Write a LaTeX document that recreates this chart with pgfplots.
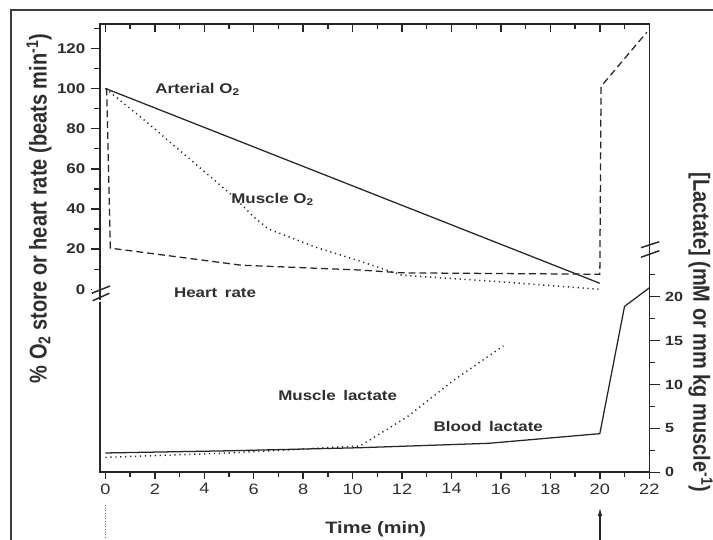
\documentclass[border=0pt]{standalone}
\usepackage{fontspec}
\setmainfont{Liberation Sans}
\usepackage{graphicx}
\usepackage{pgfplots}
\pgfplotsset{compat=1.18}
\usetikzlibrary{arrows.meta}
\definecolor{ink}{HTML}{262626}
\definecolor{txt}{HTML}{2E2E2E}

\begin{document}
\begin{tikzpicture}
\useasboundingbox (0,0) rectangle (534.75pt,404.25pt);
\pgfplotsset{
  common/.style={
    at={(75pt,50.03pt)}, anchor=south west, scale only axis,
    width=412.13pt, height=336.23pt,
    xmin=-0.22, xmax=22.01,
    clip=false,
    /pgf/number format/assume math mode=true,
    tick style={ink, line width=1.1pt},
    minor tick style={ink, line width=1.0pt},
  },
  hide lines/.style={axis line style={draw=none}},
}
% ---------- left axis: O2 and heart rate ----------
\begin{axis}[common,
  ymin=-91.1, ymax=132.1,
  axis line style={ink, line width=1.4pt},
  xtick=\empty,
  ytick={0,20,...,120}, minor ytick={10,30,...,130},
  ytick pos=left, tick align=outside,
  major tick length=6.75pt, minor tick length=4.5pt,
  yticklabel style={font=\fontsize{10.5}{12}\selectfont\bfseries, text=txt, xscale=1.21},
]
% Arterial O2
\addplot[ink, line width=0.95pt] coordinates {(0,100) (20,3)};
% Muscle O2
\addplot[ink, line width=1.1pt, dash pattern=on 0.9pt off 2.8pt] coordinates {
 (0,100) (1.5,85) (5.2,46) (6,36) (6.6,30) (8.5,21) (10.3,14) (12,7) (15.7,4) (20,0)};
% Heart rate
\addplot[ink, line width=0.95pt, dash pattern=on 5.2pt off 3pt] coordinates {
 (0.05,100) (0.2,20.5) (5.5,12) (10.3,9.6) (12,8.2) (20,7.5) (20.05,101) (21.9,128)};
\end{axis}
% ---------- bottom x ticks ----------
\begin{axis}[common, hide lines,
  ymin=0, ymax=1, ytick=\empty,
  xtick={0,2,...,22}, minor xtick={1,3,...,21},
  xtick pos=left, tick align=outside,
  major tick length=5pt, minor tick length=3.2pt,
  xticklabel style={font=\fontsize{11.25}{13}\selectfont, text=txt, xscale=1.21},
]
\end{axis}
% ---------- top x ticks (inside) ----------
\begin{axis}[common, hide lines,
  ymin=0, ymax=1, ytick=\empty,
  xtick={0,2,...,22}, minor xtick={1,3,...,21},
  xtick pos=right, tick align=inside, xticklabels={},
  major tick length=6pt, minor tick length=3.8pt,
]
\end{axis}
% ---------- right axis: lactate ----------
\begin{axis}[common, hide lines,
  ymin=0, ymax=51.06,
  xtick=\empty,
  ytick={0,5,...,20}, minor ytick={2.5,7.5,...,22.5},
  ytick pos=right, tick align=outside,
  major tick length=7.5pt, minor tick length=3.75pt,
  yticklabel style={font=\fontsize{10}{12}\selectfont\bfseries, text=txt, xscale=1.21},
]
% Blood lactate
\addplot[ink, line width=0.95pt] coordinates {
 (0,2.2) (5,2.45) (10.3,2.8) (15.5,3.3) (20,4.4) (21,18.9) (22,21)};
% Muscle lactate
\addplot[ink, line width=1.1pt, dash pattern=on 0.9pt off 2.8pt] coordinates {
 (0,1.7) (5,2.2) (10.3,3.0) (12.2,6.3) (14.1,10.5) (16.1,14.4)};
\end{axis}
% ---------- annotations in image pixel coordinates ----------
\begin{scope}[x=0.75pt, y=-0.75pt, shift={(0pt,404.25pt)}]
  % outer frame
  \draw[ink!90, line width=1.25pt] (11,545) -- (11,10) -- (720,10);
  % break marks
  \fill[white] (92,289) -- (110,281.7) -- (110,297.6) -- (92,305) -- cycle;
  \draw[ink, line width=1.4pt] (100,285) -- (100,300);
  \draw[ink, line width=1.1pt] (91.7,293.3) -- (110,286);
  \draw[ink, line width=1.1pt] (92.7,300.7) -- (109.3,293.3);
  \draw[ink, line width=1.1pt] (641,247.7) -- (659.3,241.7);
  \draw[ink, line width=1.1pt] (641,257.3) -- (659.3,250.7);
  % time markers below axis
  \draw[ink!70, line width=0.6pt, dash pattern=on 0.8pt off 1.2pt] (105,505) -- (105,545);
  \draw[ink, line width=0.8pt, -{Latex[length=6pt,width=3.5pt]}] (600,545) -- (600,508);
  % series labels
  \begin{scope}[every node/.style={anchor=base west, inner sep=0pt, xscale=1.21, text=txt,
      font=\fontsize{10.5}{12}\selectfont\bfseries}]
    \node at (155,93.5) {Arterial O\textsubscript{2}};
    \node at (231,203.3) {Muscle O\textsubscript{2}};
    \node at (173.7,297.3) {Heart\hspace{0.45em}rate};
    \node at (278,400.7) {Muscle\hspace{0.45em}lactate};
    \node at (433.3,431.7) {Blood\hspace{0.45em}lactate};
  \end{scope}
  % axis titles
  \node[anchor=base west, inner sep=0pt, xscale=1.21, text=txt,
        font=\fontsize{12.4}{14}\selectfont\bfseries] at (325,533) {Time (min)};
  \node[rotate=90, inner sep=0pt, text=txt, font=\fontsize{15}{17}\selectfont\bfseries]
        at (39,208.5) {\scalebox{1}[1.21]{\% O\textsubscript{2} store or heart rate (beats min\textsuperscript{-1})}};
  \node[rotate=-90, inner sep=0pt, text=txt, font=\fontsize{15}{17}\selectfont\bfseries]
        at (700.5,332.5) {\scalebox{1}[1.17]{[Lactate] (mM or mm kg muscle\textsuperscript{-1})}};
\end{scope}
\end{tikzpicture}
\end{document}
